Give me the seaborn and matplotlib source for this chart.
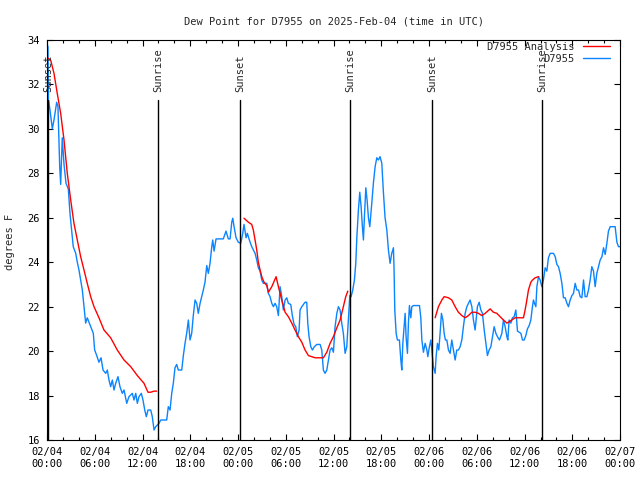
import pandas as pd
import seaborn as sns
import matplotlib.pyplot as plt
from matplotlib.lines import Line2D

# Observed dew point, hours since 2025-02-04 00:00 UTC
obs_hours = [0.00, 0.13, 0.19, 0.38, 0.67, 0.88, 1.22, 1.38, 1.60, 1.72, 1.92, 2.14, 2.39, 2.68, 2.89,
             3.05, 3.30, 3.61, 3.81, 4.02, 4.23, 4.44, 4.65, 4.86, 5.06, 5.28, 5.49, 5.82, 5.99, 6.25,
             6.53, 6.79, 7.04, 7.38, 7.58, 7.79, 8.00, 8.21, 8.42, 8.63, 8.92, 9.17, 9.46, 9.68, 10.02,
             10.30, 10.72, 10.93, 11.15, 11.35, 11.56, 11.85, 12.06, 12.28, 12.48, 12.69, 13.03, 13.23,
             13.45, 13.66, 14.07, 14.29, 15.04, 15.24, 15.46, 15.67, 15.87, 16.08, 16.29, 16.50, 16.93,
             17.13, 17.34, 17.55, 17.76, 17.97, 18.18, 18.38, 18.60, 18.81, 19.01, 19.23, 19.44, 19.64,
             19.85, 20.07, 20.27, 20.48, 20.70, 20.82, 20.99, 21.24, 22.15, 22.49, 22.78, 23.00, 23.21,
             23.34, 23.50, 23.75, 24.04, 24.34, 24.59, 24.75, 25.01, 25.17, 25.42, 25.72, 26.14, 26.35,
             26.55, 26.77, 26.98, 27.18, 27.61, 27.81, 28.02, 28.24, 28.44, 28.65, 28.86, 29.07, 29.28,
             29.49, 29.69, 29.91, 30.12, 30.32, 30.62, 30.82, 31.04, 31.25, 31.45, 31.67, 31.79, 32.01,
             32.21, 32.42, 32.63, 32.76, 32.92, 33.14, 33.34, 33.59, 33.89, 34.31, 34.52, 34.72, 34.93,
             35.15, 35.35, 35.56, 35.78, 35.98, 36.19, 36.41, 36.61, 36.82, 37.03, 37.23, 37.45, 37.66,
             37.86, 38.04, 38.20, 38.41, 38.62, 38.79, 38.92, 39.12, 39.29, 39.46, 39.62, 39.75, 39.87,
             40.05, 40.21, 40.38, 40.55, 40.80, 41.00, 41.22, 41.43, 41.63, 41.84, 42.06, 42.26, 42.47,
             42.69, 42.89, 43.10, 43.31, 43.52, 43.60, 43.69, 43.86, 44.02, 44.27, 44.45, 44.57, 44.70,
             44.86, 44.99, 45.11, 45.28, 45.40, 45.53, 45.70, 45.83, 46.03, 46.79, 46.96, 47.09, 47.29,
             47.50, 47.72, 47.84, 48.04, 48.22, 48.38, 48.54, 48.76, 48.88, 49.05, 49.22, 49.38, 49.55,
             49.73, 49.89, 50.05, 50.23, 50.43, 50.64, 50.85, 51.06, 51.27, 51.48, 51.68, 51.90, 52.11,
             52.31, 52.53, 52.74, 52.94, 53.15, 53.37, 53.57, 53.78, 53.91, 54.07, 54.29, 54.50, 54.70,
             54.92, 55.13, 55.33, 55.54, 55.76, 55.96, 56.17, 56.39, 56.59, 56.84, 57.14, 57.34, 57.55,
             57.77, 57.89, 58.05, 58.27, 58.47, 58.68, 58.90, 59.10, 59.53, 59.73, 59.94, 60.15, 60.35,
             60.57, 60.78, 60.98, 61.11, 61.24, 61.41, 61.54, 61.74, 61.95, 62.16, 62.36, 62.58, 62.79,
             62.99, 63.21, 63.62, 63.84, 64.05, 64.25, 64.46, 64.68, 64.88, 65.09, 65.31, 65.51, 65.72,
             65.94, 66.14, 66.35, 66.56, 66.77, 66.98, 67.19, 67.40, 67.60, 67.82, 68.02, 68.23, 68.44,
             68.65, 68.86, 69.07, 69.28, 69.49, 69.71, 69.91, 70.12, 70.33, 70.53, 70.75, 71.37, 71.59,
             71.79, 72.00]
obs_dewpt = [33.8, 33.7, 31.3, 30.85, 30.0, 30.4, 31.2, 31.0, 28.3, 27.5, 29.6, 28.4, 27.55, 27.3, 26.2,
             25.6, 24.7, 24.4, 24.0, 23.65, 23.2, 22.75, 22.0, 21.26, 21.5, 21.3, 21.1, 20.8, 20.05, 19.8,
             19.5, 19.7, 19.15, 19.0, 19.15, 18.7, 18.4, 18.7, 18.25, 18.55, 18.85, 18.4, 18.1, 18.25, 17.65,
             17.95, 18.1, 17.8, 18.1, 17.65, 17.95, 18.1, 17.8, 17.35, 17.05, 17.35, 17.35, 17.05,
             16.45, 16.6, 16.75, 16.9, 16.9, 17.5, 17.35, 18.1, 18.55, 19.25, 19.4, 19.15, 19.15,
             19.8, 20.35, 20.8, 21.4, 20.5, 20.8, 21.6, 22.3, 22.15, 21.7, 22.15, 22.45, 22.75,
             23.1, 23.85, 23.5, 23.95, 24.7, 25.0, 24.5, 25.05, 25.05, 25.4, 25.05, 25.05, 25.8,
             25.98, 25.6, 25.1, 24.9, 24.85, 25.3, 25.7, 25.1, 25.3, 25.0, 24.7, 24.4, 24.1,
             23.75, 23.6, 23.2, 23.05, 23.05, 22.6, 22.45, 22.15, 22.0, 22.15, 22.0, 21.6, 22.9,
             22.45, 21.85, 22.3, 22.4, 22.15, 22.1, 21.6, 21.2, 21.1, 20.65, 20.95, 21.85, 22.0,
             22.1, 22.2, 22.2, 21.25, 20.65, 20.2, 20.05, 20.2, 20.3, 20.3, 20.05, 19.15, 19.0,
             19.15, 19.6, 20.05, 20.15, 19.95, 21.1, 21.7, 22.0, 21.85, 21.25, 20.8, 19.9, 20.2,
             21.4, 22.5, 22.45, 22.75, 23.2, 23.95, 25.1, 26.35, 27.15, 26.5, 25.6, 25.0, 26.0,
             27.35, 26.8, 26.0, 25.6, 26.65, 27.55, 28.3, 28.7, 28.6, 28.75, 28.45, 27.15, 26.0,
             25.45, 24.55, 23.95, 24.4, 24.65, 23.65, 21.85, 20.8, 20.5, 20.5, 19.6, 19.15, 20.35,
             21.1, 21.7, 20.65, 19.9, 21.25, 22.05, 21.5, 22.0, 22.05, 22.05, 21.5, 20.5, 19.95,
             20.35, 20.05, 19.75, 20.2, 20.5, 19.9, 19.3, 19.0, 19.75, 20.35, 20.05, 20.8, 21.7,
             21.4, 20.8, 20.5, 20.5, 20.05, 19.9, 20.5, 20.05, 19.6, 20.05, 20.05, 20.2, 20.5,
             21.1, 21.7, 22.0, 22.15, 22.3, 22.0, 21.4, 20.95, 21.4, 22.0, 22.2, 21.85, 21.7,
             20.95, 20.35, 19.8, 20.05, 20.2, 20.65, 21.1, 20.8, 20.65, 20.5, 20.8, 21.4, 21.1,
             20.65, 20.5, 21.4, 21.26, 21.5, 21.55, 21.85, 20.9, 20.8, 20.5, 20.5, 20.7, 21.0,
             21.15, 21.4, 22.0, 22.3, 22.15, 22.0, 22.9, 23.35, 23.2, 22.9, 23.2, 23.75, 23.6,
             24.2, 24.4, 24.4, 24.25, 23.9, 23.8, 23.5, 23.05, 22.4, 22.4, 22.15, 22.0, 22.3,
             22.5, 22.6, 23.05, 22.75, 22.75, 22.45, 22.4, 23.2, 22.45, 22.45, 22.75, 23.2, 23.8,
             23.6, 22.9, 23.5, 23.8, 24.1, 24.25, 24.65, 24.35, 24.85, 25.4, 25.6, 25.6, 24.9,
             24.7, 24.7]

# Analysis dew point, three separate runs
ana1_hours = [0.06, 0.46, 0.88, 1.29, 1.72, 2.14, 2.55, 2.98, 3.39, 3.81, 4.23, 4.65, 5.06, 5.49, 5.91,
              6.53, 7.16, 8.00, 8.83, 9.68, 10.52, 11.35, 12.19, 12.69, 13.03, 13.45, 13.78]
ana1_dewpt = [33.2, 33.1, 32.5, 31.6, 30.7, 29.5, 28.0, 26.8, 25.75, 25.0, 24.25, 23.65, 23.05, 22.45, 22.0,
              21.5, 20.95, 20.6, 20.05, 19.6, 19.3, 18.9, 18.55, 18.15, 18.15, 18.2, 18.2]
ana2_hours = [24.75, 25.30, 25.72, 25.92, 26.14, 26.35, 26.55, 26.77, 26.98, 27.27, 27.61, 27.81, 28.24,
              28.78, 29.07, 29.49, 29.91, 30.32, 30.75, 31.16, 31.58, 32.01, 32.42, 32.84, 33.26, 33.68,
              34.72, 35.15, 35.56, 35.98, 36.41, 36.82, 37.23, 37.53, 37.79]
ana2_dewpt = [25.98, 25.8, 25.7, 25.45, 25.0, 24.55, 24.0, 23.65, 23.35, 23.1, 22.95, 22.65, 22.9,
              23.35, 22.9, 22.3, 21.75, 21.55, 21.26, 20.95, 20.65, 20.4, 20.05, 19.8, 19.75, 19.7,
              19.7, 19.95, 20.35, 20.65, 21.05, 21.4, 22.0, 22.45, 22.7]
ana3_hours = [48.76, 49.17, 49.60, 49.89, 50.43, 50.85, 51.27, 51.68, 52.11, 52.53, 52.94, 53.37, 53.78,
              54.20, 54.62, 55.04, 55.67, 56.08, 56.51, 56.92, 57.34, 57.77, 58.18, 58.81, 59.85, 60.06,
              60.28, 60.48, 60.78, 60.99, 61.32, 61.74]
ana3_dewpt = [21.5, 22.0, 22.3, 22.45, 22.4, 22.3, 22.0, 21.75, 21.6, 21.5, 21.6, 21.75, 21.75,
              21.7, 21.6, 21.7, 21.9, 21.75, 21.7, 21.55, 21.4, 21.26, 21.35, 21.5, 21.5, 21.85,
              22.3, 22.75, 23.1, 23.2, 23.3, 23.35]

sun_hours = [0.13, 13.95, 24.25, 38.07, 48.38, 62.2]
sun_labels = ['Sunset', 'Sunrise', 'Sunset', 'Sunrise', 'Sunset', 'Sunrise']

tick_hours = list(range(0, 73, 6))
tick_dates = ['02/04'] * 4 + ['02/05'] * 4 + ['02/06'] * 4 + ['02/07']
tick_times = ['00:00', '06:00', '12:00', '18:00'] * 3 + ['00:00']

obs = pd.DataFrame({'hour': obs_hours, 'dewpt': obs_dewpt})
ana = pd.concat([
    pd.DataFrame({'hour': ana1_hours, 'dewpt': ana1_dewpt, 'run': 1}),
    pd.DataFrame({'hour': ana2_hours, 'dewpt': ana2_dewpt, 'run': 2}),
    pd.DataFrame({'hour': ana3_hours, 'dewpt': ana3_dewpt, 'run': 3}),
])

sns.set_style('ticks')
plt.rcParams['font.family'] = ['DejaVu Sans Mono', 'DejaVu Sans']
plt.rcParams['font.size'] = 7.5

fig, ax = plt.subplots(figsize=(6.4, 4.8), dpi=100)
fig.subplots_adjust(left=0.0734, right=0.969, bottom=0.0833, top=0.9167)

red = '#ff0000'
blue = '#0a84ff'

sns.lineplot(data=obs, x='hour', y='dewpt', color=blue, linewidth=1.0, ax=ax, sort=False)
sns.lineplot(data=ana, x='hour', y='dewpt', units='run', estimator=None, color=red,
             linewidth=1.0, ax=ax, sort=False)

# sunrise / sunset markers
for h, lab in zip(sun_hours, sun_labels):
    ax.axvline(h, ymin=0, ymax=0.85, color='black', linewidth=1.0)
    ax.text(h, 0.87, lab, transform=ax.get_xaxis_transform(), rotation=90,
            ha='center', va='bottom', fontsize=7.5)

ax.set_xlim(0, 72)
ax.set_ylim(16, 34)
ax.set_xticks(tick_hours)
ax.set_xticklabels([d + '\n' + t for d, t in zip(tick_dates, tick_times)])
ax.set_xticks(range(0, 73, 2), minor=True)
ax.set_yticks(range(16, 35, 2))
ax.tick_params(which='both', direction='in', top=True, right=True, width=0.8, colors='black')
ax.tick_params(which='major', length=4.5, pad=5)
ax.tick_params(which='minor', length=2.2)
for s in ax.spines.values():
    s.set_linewidth(0.8)
    s.set_color('black')

ax.set_xlabel('')
ax.set_ylabel('')
fig.text(10 / 640, 0.497, 'degrees F', rotation=90, ha='center', va='center', fontsize=7.5)
ax.set_title('Dew Point for D7955 on 2025-Feb-04 (time in UTC)', fontsize=7.5, pad=11)

handles = [Line2D([], [], color=red, linewidth=1.0), Line2D([], [], color=blue, linewidth=1.0)]
ax.legend(handles, ['D7955 Analysis', 'D7955'], loc='upper right', bbox_to_anchor=(0.9825, 0.995),
          frameon=False, markerfirst=False, borderpad=0, borderaxespad=0, handlelength=2.6,
          handletextpad=0.8, labelspacing=0.15, fontsize=7.5)

fig.savefig('out.png', dpi=100)
